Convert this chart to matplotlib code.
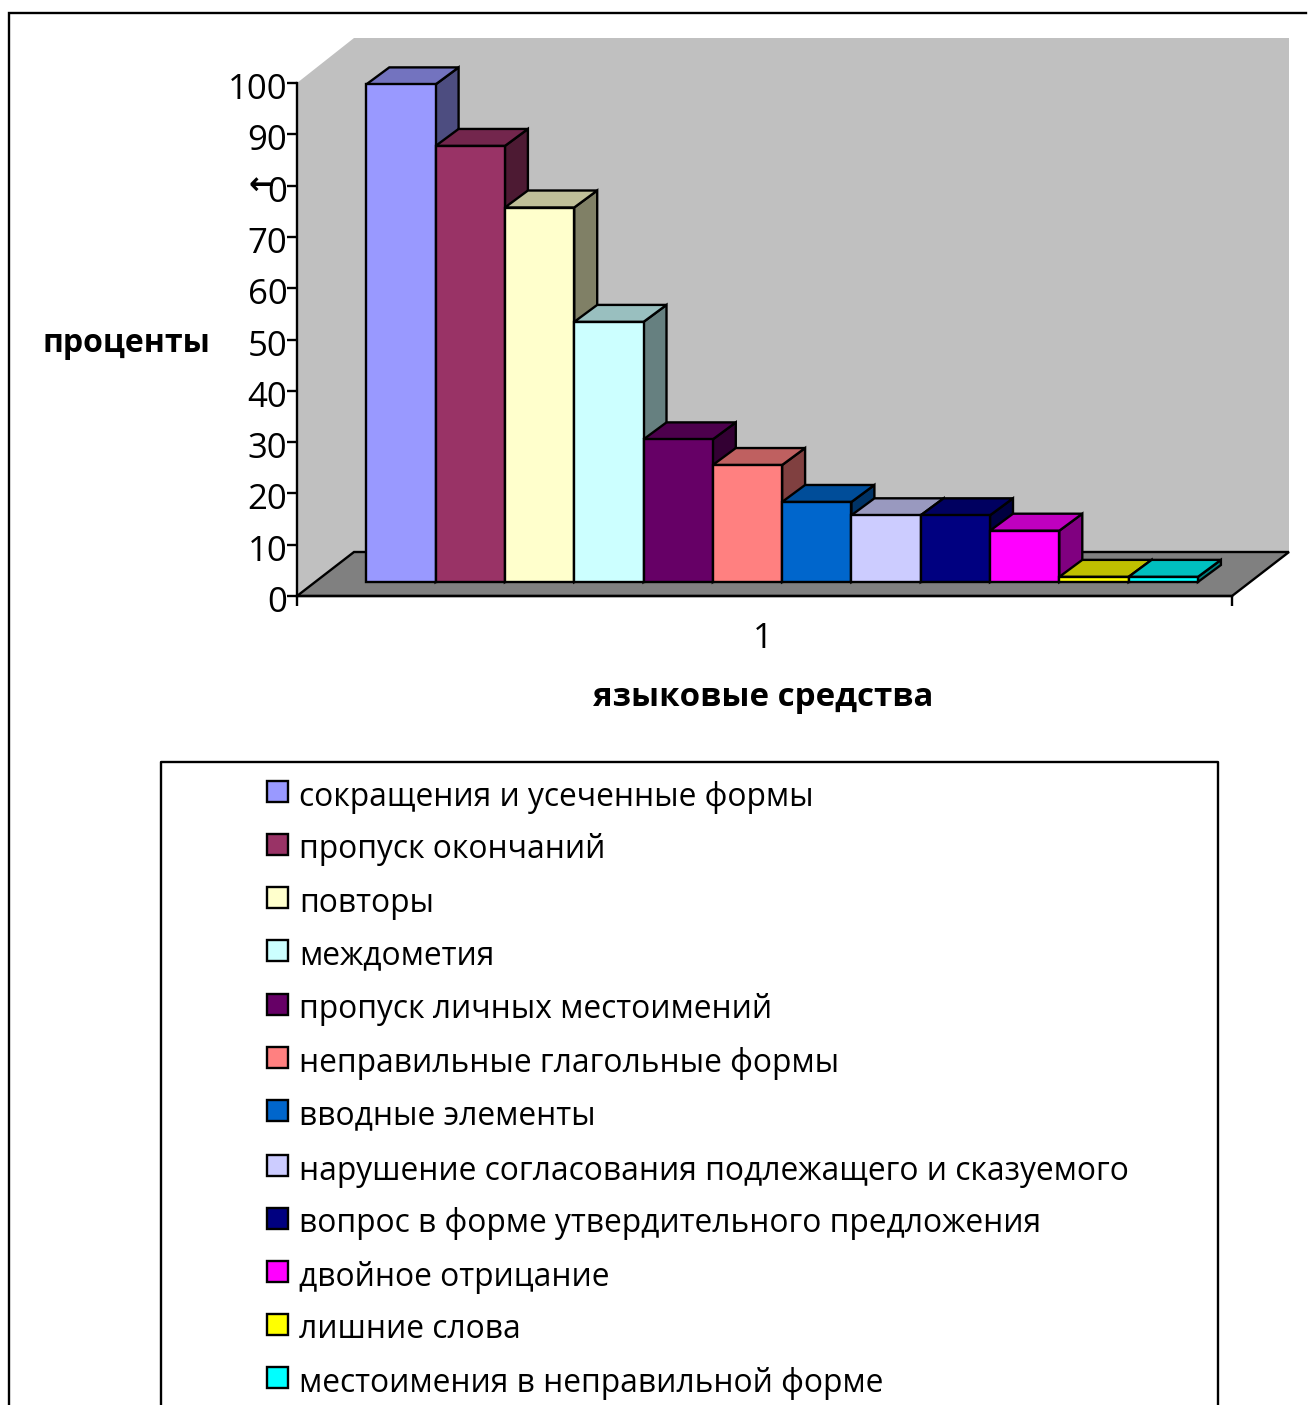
import matplotlib
matplotlib.use("Agg")
import matplotlib.pyplot as plt
from matplotlib.colors import to_rgb
from matplotlib.patches import Polygon, Rectangle
from matplotlib.transforms import ScaledTranslation

plt.rcParams["font.family"] = ["Open Sans", "DejaVu Sans"]

# --- data ---
categories = [
    "сокращения и усеченные формы",
    "пропуск окончаний",
    "повторы",
    "междометия",
    "пропуск личных местоимений",
    "неправильные глагольные формы",
    "вводные элементы",
    "нарушение согласования подлежащего и сказуемого",
    "вопрос в форме утвердительного предложения",
    "двойное отрицание",
    "лишние слова",
    "местоимения в неправильной форме",
]
values = [97, 85, 73, 50.7, 27.8, 22.8, 15.6, 13, 13, 10, 1, 1]
colors = ["#9999FF", "#993366", "#FFFFCC", "#CCFFFF", "#660066", "#FF8080",
          "#0066CC", "#CCCCFF", "#000080", "#FF00FF", "#FFFF00", "#00FFFF"]
tick_values = [0, 10, 20, 30, 40, 50, 60, 70, 80, 90, 100]
tick_labels = ["0", "10", "20", "30", "40", "50", "60", "70", "0", "90", "100"]
legend_rows = [791, 844, 897, 950, 1004, 1057, 1110, 1165, 1218, 1271, 1324, 1377]

W, H = 1309, 1405
LW = 1.7


def shade(c, k):
    return tuple(v * k for v in to_rgb(c))


fig = plt.figure(figsize=(W / 100, H / 100), dpi=100)

# overlay in pixel coordinates for frames and the legend
bg = fig.add_axes([0, 0, 1, 1])
bg.set_xlim(0, W)
bg.set_ylim(H, 0)
bg.axis("off")
bg.plot([9, 9, 1306], [H, 13, 13], color="black", lw=LW, solid_joinstyle="miter")

# front plane of the chart: 297..1232 px wide, 83..596 px tall
ax = fig.add_axes([297 / W, 1 - 596 / H, 935 / W, 513 / H])
ax.patch.set_visible(False)
ax.set_xlim(0, 935 / 69.3)
ax.set_ylim(0, 100)
for side in ["top", "right"]:
    ax.spines[side].set_visible(False)
for side in ["left", "bottom"]:
    ax.spines[side].set_linewidth(LW)
    ax.spines[side].set_zorder(6)

xmax = 935 / 69.3
# wall and bar depth in data units
wall_dx, wall_dy = 57 / 69.3, 44 / 5.13
bar_dx, bar_dy = 23 / 69.3, 17 / 5.13
base = 14 / 5.13
wall_top = 100 + 45 / 5.13

ax.add_patch(Polygon([(0, 0), (wall_dx, wall_dy), (wall_dx, wall_top), (0, 100)],
                     fc="#C0C0C0", ec="none", clip_on=False, zorder=1))
ax.add_patch(Polygon([(wall_dx, wall_dy), (xmax + wall_dx, wall_dy),
                      (xmax + wall_dx, wall_top), (wall_dx, wall_top)],
                     fc="#C0C0C0", ec="none", clip_on=False, zorder=1))
ax.add_patch(Polygon([(0, 0), (wall_dx, wall_dy), (xmax + wall_dx, wall_dy), (xmax, 0)],
                     fc="#808080", ec="black", lw=LW, clip_on=False, zorder=2))

# bars left to right, each one covers the side of the one before
for i in range(len(values)):
    x0, x1 = i + 1, i + 2
    top = base + values[i]
    c = colors[i]
    z = 3 + i * 0.01
    ax.add_patch(Polygon([(x1, base), (x1 + bar_dx, base + bar_dy),
                          (x1 + bar_dx, top + bar_dy), (x1, top)],
                         fc=shade(c, 0.5), ec="black", lw=LW, clip_on=False, zorder=z))
    ax.add_patch(Polygon([(x0, top), (x0 + bar_dx, top + bar_dy),
                          (x1 + bar_dx, top + bar_dy), (x1, top)],
                         fc=shade(c, 0.75), ec="black", lw=LW, clip_on=False, zorder=z))
    ax.add_patch(Rectangle((x0, base), 1, values[i], fc=c, ec="black", lw=LW,
                           clip_on=False, zorder=z))

ax.set_yticks(tick_values)
ax.set_yticklabels(tick_labels)
ax.tick_params(axis="y", length=7, width=LW, labelsize=25, pad=0)
# tick labels sit a little low in the original
for lab in ax.get_yticklabels():
    lab.set_transform(lab.get_transform() + ScaledTranslation(0, -3 / 100, fig.dpi_scale_trans))
ax.set_xticks([0, xmax])
ax.set_xticklabels(["", ""])
ax.tick_params(axis="x", length=7, width=LW)

# smudge over the 80 label
bg.text(261, 187, "←", fontsize=22, fontweight="bold", ha="center", va="center")

bg.text(763, 639, "1", fontsize=25, ha="center", va="center")
bg.text(126, 343, "проценты", fontsize=23, fontweight="bold", ha="center", va="center")
bg.text(763, 698, "языковые средства", fontsize=23.8, fontweight="bold", ha="center", va="center")

# legend box runs off the bottom edge
bg.plot([161, 161, 1218, 1218], [H, 762, 762, H], color="black", lw=LW)
for name, c, y in zip(categories, colors, legend_rows):
    bg.add_patch(Rectangle((267, y - 10), 21, 21, fc=c, ec="black", lw=LW))
    bg.text(299, y + 6, name, fontsize=22.9, ha="left", va="center")

fig.savefig("out.png", dpi=100)
